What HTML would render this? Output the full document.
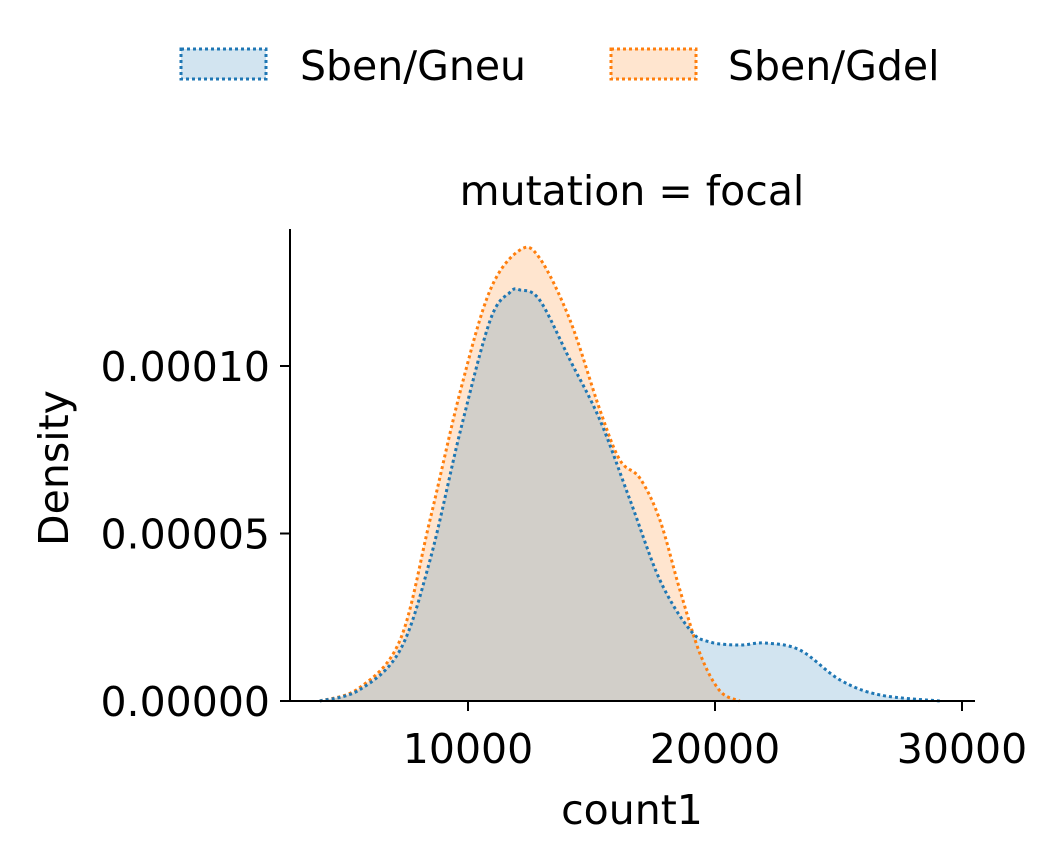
<!DOCTYPE html>
<html><head><meta charset="utf-8"><style>
body{margin:0;background:#fff}
svg text{font-family:"DejaVu Sans","Liberation Sans",sans-serif;fill:#000}
</style></head><body>
<svg id="chart" width="1059" height="861" viewBox="0 0 1059 861" xmlns="http://www.w3.org/2000/svg">
<g id="legend">
 <g>
  <rect x="181" y="49" width="85" height="30" fill="rgba(31,119,180,0.2)" stroke="#1f77b4" stroke-width="3" stroke-dasharray="3,3"/>
  <text x="300" y="80" font-size="41">Sben/Gneu</text>
 </g>
 <g>
  <rect x="611" y="49" width="85" height="30" fill="rgba(255,127,14,0.2)" stroke="#ff7f0e" stroke-width="3" stroke-dasharray="3,3"/>
  <text x="728" y="80" font-size="41">Sben/Gdel</text>
 </g>
</g>
<text x="632" y="205" font-size="41" text-anchor="middle">mutation = focal</text>
<g id="plot"></g>
<g id="axes"></g>
<text x="632" y="824" font-size="41" text-anchor="middle">count1</text>
<text transform="translate(68,468) rotate(-90)" font-size="41" text-anchor="middle">Density</text>
</svg>
<script>
const xTicks=[10000,20000,30000];
const yTicks=[0,0.00005,0.0001];
const yTickLabels=["0.00000","0.00005","0.00010"];
const gneuX=[4000,5600,7250,8460,9700,10900,11700,12100,12900,14130,15340,16560,17770,18990,19800,21000,22020,23440,25060,26680,29100];
const gneuY=[0,0.0000033,0.0000152,0.000042,0.0000809,0.0001137,0.000122,0.0001227,0.0001197,0.0001018,0.0000839,0.00006,0.0000361,0.0000212,0.0000176,0.0000167,0.0000173,0.0000152,0.0000063,0.0000018,0];
const gdelX=[4000,5600,7250,8460,9700,10900,12100,12900,14130,15340,16150,16960,17770,18580,19400,20200,21000];
const gdelY=[0,0.0000039,0.0000182,0.000054,0.0000928,0.0001227,0.0001346,0.0001322,0.0001137,0.0000869,0.0000719,0.0000665,0.000054,0.0000331,0.000014,0.000003,0];
const X=v=>221+v/10000*247;
const Y=v=>701-v/0.0001*335;
const NS="http://www.w3.org/2000/svg";
function path(xs,ys){
 const p=xs.map((x,i)=>[X(x),Y(ys[i])]);
 let d="M"+p[0][0]+","+p[0][1];
 for(let i=0;i<p.length-1;i++){
  const p0=p[Math.max(i-1,0)],p1=p[i],p2=p[i+1],p3=p[Math.min(i+2,p.length-1)];
  let c1y=p1[1]+(p2[1]-p0[1])/6,c2y=p2[1]-(p3[1]-p1[1])/6;
  c1y=Math.min(c1y,701);c2y=Math.min(c2y,701);
  d+=" C"+(p1[0]+(p2[0]-p0[0])/6)+","+c1y+" "+(p2[0]-(p3[0]-p1[0])/6)+","+c2y+" "+p2[0]+","+p2[1];
 }
 return d;
}
const plot=document.getElementById("plot");
function area(xs,ys,fill,name){
 const a=document.createElementNS(NS,"path");
 a.setAttribute("d",path(xs,ys)+" L"+X(xs[xs.length-1])+",701 L"+X(xs[0])+",701Z");
 a.setAttribute("fill",fill);
 
 
 plot.appendChild(a);
}
function line(xs,ys,col,name){
 const l=document.createElementNS(NS,"path");
 l.setAttribute("d",path(xs,ys));l.setAttribute("fill","none");l.setAttribute("stroke",col);
 l.setAttribute("stroke-width","3");l.setAttribute("stroke-dasharray","3,3");
 
 
 plot.appendChild(l);
}
area(gdelX,gdelY,"rgba(255,127,14,0.2)","gdel");
area(gneuX,gneuY,"rgba(31,119,180,0.2)","gneu");
line(gdelX,gdelY,"#ff7f0e","gdel");
line(gneuX,gneuY,"#1f77b4","gneu");
const ax=document.getElementById("axes");
function el(tag,attrs,txt){const e=document.createElementNS(NS,tag);for(const k in attrs)e.setAttribute(k,attrs[k]);if(txt)e.textContent=txt;ax.appendChild(e);return e;}
let e=el("line",{x1:290,y1:229,x2:290,y2:702,stroke:"#000","stroke-width":2});


e=el("line",{x1:289,y1:701,x2:975,y2:701,stroke:"#000","stroke-width":2});


xTicks.forEach(t=>{
 e=el("line",{x1:X(t),y1:701,x2:X(t),y2:711,stroke:"#000","stroke-width":2});
 
 
 e=el("text",{x:X(t),y:763,"font-size":41,"text-anchor":"middle"},String(t));
 
 
});
yTicks.forEach((t,i)=>{
 e=el("line",{x1:280,y1:Y(t),x2:290,y2:Y(t),stroke:"#000","stroke-width":2});
 
 
 e=el("text",{x:270,y:Y(t)+15,"font-size":41,"text-anchor":"end"},yTickLabels[i]);
 
 
});
</script>
</body></html>
